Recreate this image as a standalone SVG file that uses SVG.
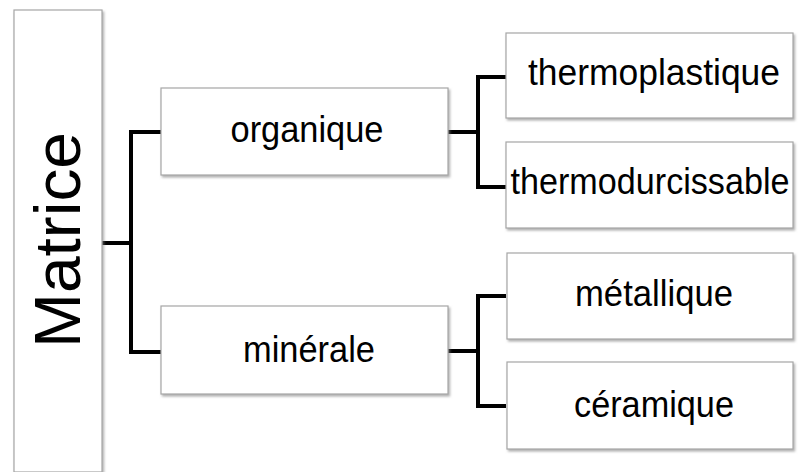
<svg xmlns="http://www.w3.org/2000/svg" width="800" height="472" viewBox="0 0 800 472">
  <style>
    .box { fill: #ffffff; stroke: #a6a6a6; stroke-width: 1.2; filter: url(#shadow); }
    .label { font-family: "Liberation Sans", Arial, sans-serif; font-size: 37px; fill: #000000; text-anchor: middle; }
    .link { fill: none; stroke: #000000; stroke-width: 4; stroke-linejoin: miter; stroke-linecap: butt; }
  </style>
  <defs>
    <filter id="shadow" x="-10%" y="-10%" width="130%" height="130%">
      <feDropShadow dx="1.5" dy="2" stdDeviation="1" flood-color="#7f7f7f" flood-opacity="0.6"/>
    </filter>
  </defs>
  <rect width="800" height="472" fill="#ffffff"/>

  <g id="connectors">
    <path class="link" d="M102 243 H131 M161 132 H131 V352 H161"/>
    <path class="link" d="M448 132 H478 M506 77 H478 V187 H506"/>
    <path class="link" d="M448 351 H478 M506 296 H478 V406 H506"/>
  </g>

  <g id="matrice">
    <rect class="box" x="14" y="10" width="88" height="462"/>
    <text class="label" transform="translate(80,240) rotate(-90)" style="font-size:64px" textLength="216" lengthAdjust="spacingAndGlyphs">Matrice</text>
  </g>

  <g id="organique">
    <rect class="box" x="161" y="88" width="287" height="87"/>
    <text class="label" x="307" y="142" textLength="153" lengthAdjust="spacingAndGlyphs">organique</text>
  </g>

  <g id="minerale">
    <rect class="box" x="161" y="306" width="287" height="88"/>
    <text class="label" x="309" y="362" textLength="132" lengthAdjust="spacingAndGlyphs">minérale</text>
  </g>

  <g id="thermoplastique">
    <rect class="box" x="506" y="33" width="287" height="85"/>
    <text class="label" x="654" y="85" textLength="252" lengthAdjust="spacingAndGlyphs">thermoplastique</text>
  </g>

  <g id="thermodurcissable">
    <rect class="box" x="506" y="142" width="287" height="86"/>
    <text class="label" x="650" y="194" textLength="279" lengthAdjust="spacingAndGlyphs">thermodurcissable</text>
  </g>

  <g id="metallique">
    <rect class="box" x="507" y="253" width="286" height="86"/>
    <text class="label" x="654" y="306" textLength="158" lengthAdjust="spacingAndGlyphs">métallique</text>
  </g>

  <g id="ceramique">
    <rect class="box" x="507" y="362" width="286" height="87"/>
    <text class="label" x="654" y="417" textLength="160" lengthAdjust="spacingAndGlyphs">céramique</text>
  </g>
</svg>
